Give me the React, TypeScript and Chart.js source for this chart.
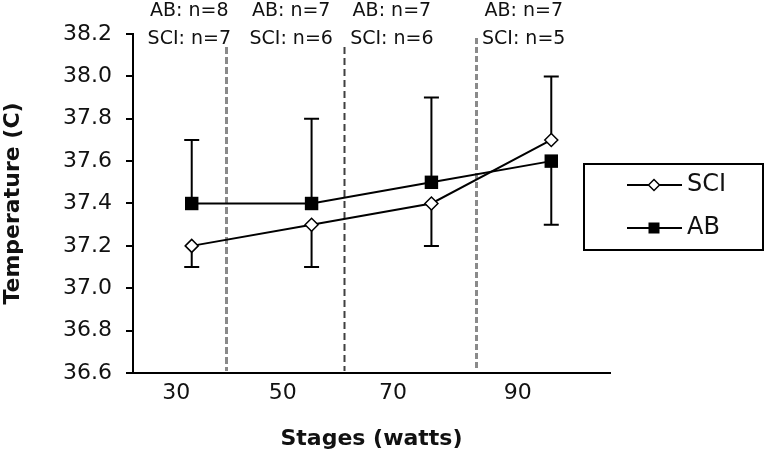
import React, { useEffect, useRef } from "react";
import { Chart, registerables } from "chart.js";

Chart.register(...registerables);

// ---- data ----
const stages = ["30", "50", "70", "90"];
const sciMean = [37.2, 37.3, 37.4, 37.7];
const sciErrUp = [0, 0, 0, 0.3];
const sciErrDown = [0.1, 0.2, 0.2, 0];
const abMean = [37.4, 37.4, 37.5, 37.6];
const abErrUp = [0.3, 0.4, 0.4, 0];
const abErrDown = [0, 0, 0, 0.3];
const abN = ["AB: n=8", "AB: n=7", "AB: n=7", "AB: n=7"];
const sciN = ["SCI: n=7", "SCI: n=6", "SCI: n=6", "SCI: n=5"];

// ---- layout (scale units on x axis) ----
const TICK_POS = [-0.13, 0.76, 1.68, 2.72];
const ANNOT_X = [-0.02, 0.83, 1.67, 2.77];
const DIVIDERS = [
  { x: 0.29, color: "#8a8a8a", width: 3, dash: [7, 3], top: 47 },
  { x: 1.27, color: "#404040", width: 2, dash: [7, 4], top: 47 },
  { x: 2.37, color: "#8a8a8a", width: 3, dash: [6, 3], top: 38 },
];
const FONT = "'DejaVu Sans', sans-serif";

const errorBarPlugin = {
  id: "errorBars",
  beforeDatasetsDraw(chart: any) {
    const { ctx, scales, chartArea } = chart;
    const xs = scales.x;
    const ys = scales.y;
    ctx.save();
    DIVIDERS.forEach((d) => {
      const px = Math.round(xs.getPixelForValue(d.x)) + 0.5;
      ctx.beginPath();
      ctx.strokeStyle = d.color;
      ctx.lineWidth = d.width;
      ctx.setLineDash(d.dash);
      ctx.moveTo(px, d.top);
      ctx.lineTo(px, chartArea.bottom - 2);
      ctx.stroke();
    });
    ctx.setLineDash([]);
    const groups = [
      { mean: sciMean, up: sciErrUp, down: sciErrDown },
      { mean: abMean, up: abErrUp, down: abErrDown },
    ];
    ctx.strokeStyle = "#000";
    ctx.lineWidth = 2;
    groups.forEach((g) => {
      g.mean.forEach((m, i) => {
        const px = xs.getPixelForValue(i);
        const y0 = ys.getPixelForValue(m);
        const ends: number[] = [];
        if (g.up[i] > 0) ends.push(ys.getPixelForValue(m + g.up[i]));
        if (g.down[i] > 0) ends.push(ys.getPixelForValue(m - g.down[i]));
        ends.forEach((ye) => {
          ctx.beginPath();
          ctx.moveTo(px, y0);
          ctx.lineTo(px, ye);
          ctx.moveTo(px - 7.5, ye);
          ctx.lineTo(px + 7.5, ye);
          ctx.stroke();
        });
      });
    });
    ctx.restore();
  },
  afterDraw(chart: any) {
    const { ctx, scales } = chart;
    const xs = scales.x;
    ctx.save();
    ctx.fillStyle = "#111";
    ctx.font = `19px ${FONT}`;
    ctx.textAlign = "center";
    ctx.textBaseline = "middle";
    ANNOT_X.forEach((v, i) => {
      const px = xs.getPixelForValue(v);
      ctx.fillText(abN[i], px, 11);
      ctx.fillText(sciN[i], px, 39);
    });
    const bx = 584, by = 164, bw = 179, bh = 86;
    ctx.strokeStyle = "#000";
    ctx.lineWidth = 2;
    ctx.strokeRect(bx, by, bw, bh);
    const rows = [185, 228];
    chart.data.datasets.forEach((ds: any, i: number) => {
      const y = rows[i];
      ctx.beginPath();
      ctx.lineWidth = 2;
      ctx.strokeStyle = "#000";
      ctx.moveTo(627, y);
      ctx.lineTo(682, y);
      ctx.stroke();
      const cx = 654;
      if (i === 0) {
        ctx.beginPath();
        ctx.moveTo(cx - 5.5, y);
        ctx.lineTo(cx, y - 5.5);
        ctx.lineTo(cx + 5.5, y);
        ctx.lineTo(cx, y + 5.5);
        ctx.closePath();
        ctx.fillStyle = "#fff";
        ctx.fill();
        ctx.lineWidth = 1.5;
        ctx.stroke();
      } else {
        ctx.fillStyle = "#000";
        ctx.fillRect(cx - 5.5, y - 5.5, 11, 11);
      }
      ctx.fillStyle = "#111";
      ctx.font = `24px ${FONT}`;
      ctx.textAlign = "left";
      ctx.textBaseline = "middle";
      ctx.fillText(ds.label, 687, y);
    });
    ctx.restore();
  },
};

export default function App() {
  const ref = useRef<HTMLCanvasElement | null>(null);
  useEffect(() => {
    if (!ref.current) return;
    const chart = new Chart(ref.current, {
      type: "line",
      data: {
        datasets: [
          {
            label: "SCI",
            data: sciMean.map((v, i) => ({ x: i, y: v })),
            borderColor: "#000",
            borderWidth: 2,
            pointStyle: "rectRot",
            pointRadius: 6.5,
            pointBackgroundColor: "#fff",
            pointBorderColor: "#000",
            pointBorderWidth: 1.5,
            tension: 0,
          },
          {
            label: "AB",
            data: abMean.map((v, i) => ({ x: i, y: v })),
            borderColor: "#000",
            borderWidth: 2,
            pointStyle: "rect",
            pointRadius: 9.5,
            pointBackgroundColor: "#000",
            pointBorderColor: "#000",
            pointBorderWidth: 0,
            tension: 0,
          },
        ],
      },
      options: {
        responsive: false,
        animation: false,
        layout: { padding: { top: 34, right: 155, bottom: 0, left: 0 } },
        plugins: { legend: { display: false }, tooltip: { enabled: false } },
        scales: {
          x: {
            type: "linear",
            min: -0.49,
            max: 3.49,
            afterBuildTicks: (scale: any) => {
              scale.ticks = TICK_POS.map((v) => ({ value: v }));
            },
            afterFit: (scale: any) => {
              scale.height = 83;
            },
            grid: { display: false, drawTicks: false },
            border: { display: true, color: "#000", width: 2 },
            ticks: {
              autoSkip: false,
              maxRotation: 0,
              padding: 7,
              color: "#111",
              font: { family: FONT, size: 22 },
              callback: (_v: any, idx: number) => stages[idx],
            },
            title: {
              display: true,
              text: "Stages (watts)",
              color: "#111",
              font: { family: FONT, size: 22, weight: "bold" },
              padding: { top: 0, bottom: 4 },
            },
          },
          y: {
            min: 36.6,
            max: 38.2,
            afterFit: (scale: any) => {
              scale.width = 133;
            },
            grid: {
              drawOnChartArea: false,
              drawTicks: true,
              tickLength: 7,
              color: "#000",
              lineWidth: 2,
            },
            border: { display: true, color: "#000", width: 2 },
            ticks: {
              stepSize: 0.2,
              padding: 14,
              color: "#111",
              font: { family: FONT, size: 22 },
              callback: (v: any) => Number(v).toFixed(1),
            },
            title: {
              display: true,
              text: "Temperature (C)",
              color: "#111",
              font: { family: FONT, size: 22, weight: "bold" },
              padding: { top: 0, bottom: 0 },
            },
          },
        },
      },
      plugins: [errorBarPlugin],
    });
    return () => chart.destroy();
  }, []);
  return (
    <div style={{ position: "absolute", left: 0, top: 0, width: 765, height: 456, background: "#fff" }}>
      <canvas ref={ref} width={765} height={456} style={{ display: "block" }} />
    </div>
  );
}
